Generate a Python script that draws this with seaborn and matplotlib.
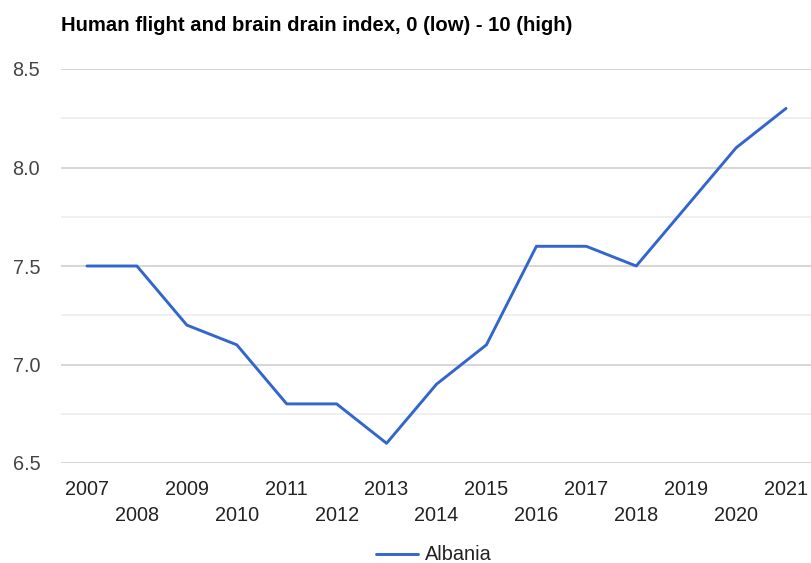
import matplotlib
matplotlib.use("Agg")
import matplotlib.pyplot as plt
import seaborn as sns
import pandas as pd
from matplotlib.ticker import MultipleLocator

years = list(range(2007, 2022))
albania = [7.5, 7.5, 7.2, 7.1, 6.8, 6.8, 6.6, 6.9, 7.1, 7.6, 7.6, 7.5, 7.8, 8.1, 8.3]
country = "Albania"
title = "Human flight and brain drain index, 0 (low) - 10 (high)"

df = pd.DataFrame({"year": years, "value": albania, "country": country})

sns.set_theme(style="white")
plt.rcParams["font.family"] = ["Liberation Sans", "DejaVu Sans"]

fig = plt.figure(figsize=(8.11, 5.63), dpi=100)
ax = fig.add_axes([61 / 811, 1 - 463 / 563, 1 - 61 / 811, (463 - 69) / 563])

sns.lineplot(data=df, x="year", y="value", hue="country", palette=["#3366cc"],
             linewidth=2.1, ax=ax, legend=False)

ax.set_xlim(2006.48, 2021.5)
ax.set_ylim(6.5, 8.5)

# y grid: labelled majors every 0.5, lighter minors every 0.25
ax.yaxis.set_major_locator(MultipleLocator(0.5))
ax.yaxis.set_minor_locator(MultipleLocator(0.25))
ax.grid(axis="y", which="major", color="#cccccc", linewidth=1.1)
ax.grid(axis="y", which="minor", color="#ebebeb", linewidth=1.1)
ax.grid(axis="x", visible=False)
ax.set_axisbelow(True)
ax.set_yticklabels([f"{v:.1f}" for v in ax.get_yticks()])

# staggered year labels: odd years on the first row, even years below
odd = [y for y in years if y % 2 == 1]
even = [y for y in years if y % 2 == 0]
ax.set_xticks(odd)
ax.set_xticklabels([str(y) for y in odd])
ax.set_xticks(even, minor=True)
ax.set_xticklabels([str(y) for y in even], minor=True)

fs = 14.3
ax.tick_params(axis="x", which="major", length=0, pad=12, labelsize=fs, labelcolor="#222222")
ax.tick_params(axis="x", which="minor", length=0, pad=31, labelsize=fs, labelcolor="#222222")
ax.tick_params(axis="y", which="both", length=0, pad=15, labelsize=fs, labelcolor="#444444")

for s in ax.spines.values():
    s.set_visible(False)

ax.set_xlabel("")
ax.set_ylabel("")

fig.text(61 / 811, 1 - 31 / 563, title, fontsize=14.6, fontweight="bold",
         color="#000000", ha="left", va="baseline")

line = ax.get_lines()[0]
fig.legend([line], [country], loc="center", bbox_to_anchor=(434 / 811, 1 - 555 / 563),
           frameon=False, fontsize=fs, handlelength=2.1, handletextpad=0.4,
           labelcolor="#222222")

fig.savefig("out.png", dpi=100)
